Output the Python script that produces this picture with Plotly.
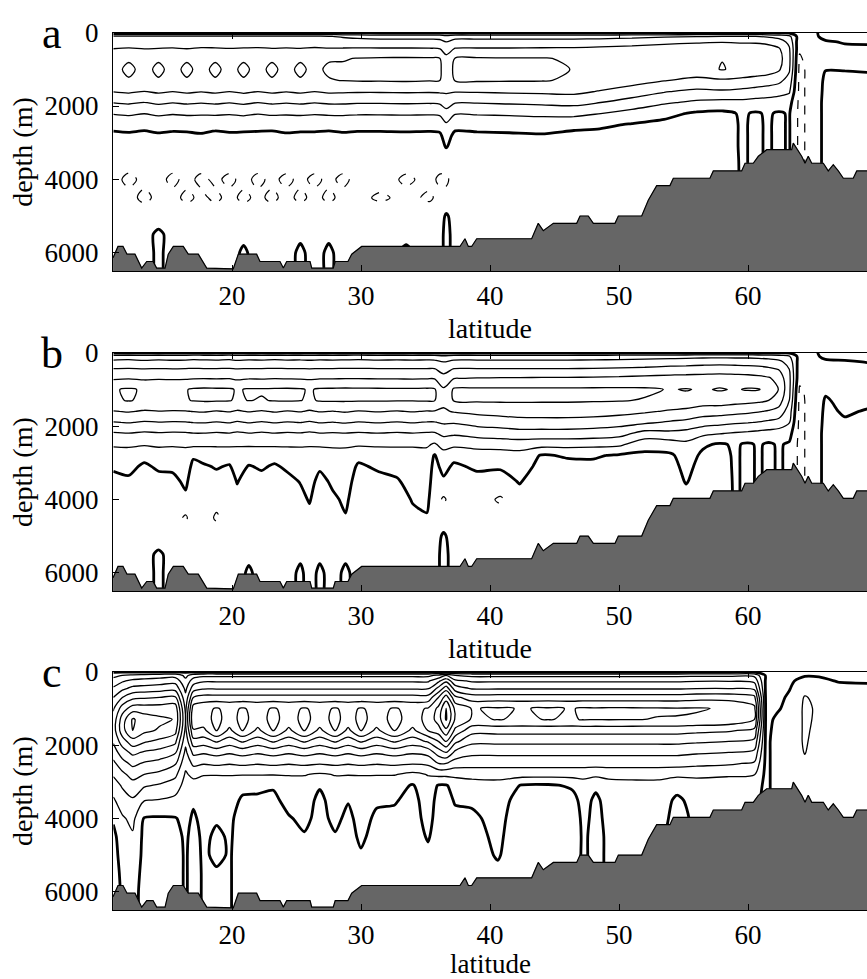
import numpy as np
import plotly.graph_objects as go

# ---------------- data ----------------
DEPTHS = [0, 100, 250, 450, 700, 1000, 1300, 1600, 1900, 2200, 2500, 2800,
          3100, 3500, 4000, 4500, 5000, 5500, 6000, 6500]
DEPTH_MAX = 6500

# panel a: overturning streamfunction (Sv), one depth profile per latitude
LAT_A = [10.8, 12.0, 13.2, 14.3, 15.4, 16.5, 17.6, 18.7, 19.8, 20.9, 22.0, 23.1,
         24.2, 25.3, 26.4, 27.5, 28.6, 29.7, 31.5, 33.5, 35.3, 36.1, 36.6, 37.3,
         39.0, 41.5, 44.0, 46.5, 48.5, 51.0, 53.5, 56.0, 58.0, 59.6, 60.6, 61.5,
         62.4, 63.2, 64.0, 64.8, 66.0, 67.5, 69.3]
PSI_A = [
    [-0.5, 8.5, 10.5, 12.1, 15.0, 15.3, 15.2, 12.2, 8.2, 4.3, 1.3, -0.8, -1.6, -2.2, -3.0, -3.0, -2.2, -1.2, -1.0, -1.0],
    [-0.5, 8.6, 10.6, 12.3, 15.7, 16.5, 15.8, 12.6, 8.6, 4.6, 1.6, -0.6, -1.5, -2.5, -4.8, -3.0, -2.0, -1.0, -1.0, -1.0],
    [-0.5, 8.4, 10.4, 12.1, 15.0, 15.3, 15.2, 12.0, 8.0, 4.1, 1.2, -0.9, -1.7, -2.3, -3.2, -4.8, -2.2, -1.0, -1.0, -1.0],
    [-0.5, 8.5, 10.5, 12.2, 15.7, 16.5, 15.8, 12.6, 8.7, 4.7, 1.7, -0.5, -1.4, -2.0, -3.0, -3.2, -1.5, 0.6, 0.5, 0.5],
    [-0.5, 8.6, 10.6, 12.3, 15.0, 15.3, 15.2, 12.1, 8.2, 4.3, 1.4, -0.8, -1.6, -2.4, -4.8, -3.0, -2.0, -1.0, -1.0, -1.0],
    [-0.5, 8.4, 10.5, 12.1, 15.7, 16.5, 15.8, 12.6, 8.6, 4.6, 1.5, -0.7, -1.5, -2.2, -3.0, -4.8, -2.0, -1.0, -1.0, -1.0],
    [-0.5, 8.5, 10.6, 12.4, 15.0, 15.3, 15.2, 12.2, 8.3, 4.4, 1.8, -0.4, -1.4, -2.2, -4.8, -3.2, -2.0, -1.0, -1.0, -1.0],
    [-0.5, 8.7, 10.7, 12.3, 15.7, 16.5, 15.8, 12.6, 8.6, 4.6, 1.3, -0.9, -1.7, -2.4, -3.3, -4.8, -2.0, -1.0, -1.0, -1.0],
    [-0.5, 8.5, 10.5, 12.2, 15.0, 15.3, 15.2, 12.1, 8.2, 4.3, 1.6, -0.6, -1.5, -2.3, -4.8, -3.0, -2.0, -1.0, -1.0, -1.0],
    [-0.5, 8.6, 10.6, 12.3, 15.7, 16.5, 15.8, 12.7, 8.7, 4.7, 1.5, -0.7, -1.5, -2.2, -3.0, -4.8, -2.0, -0.6, 0.4, 0.4],
    [-0.5, 8.5, 10.6, 12.4, 15.0, 15.3, 15.2, 12.1, 8.1, 4.2, 1.4, -0.8, -1.6, -2.3, -4.8, -3.2, -2.0, -1.0, -1.0, -1.0],
    [-0.5, 8.5, 10.5, 12.2, 15.7, 16.5, 15.8, 12.6, 8.6, 4.6, 1.3, -0.9, -1.7, -2.4, -3.2, -4.8, -2.0, -1.0, -1.0, -1.0],
    [-0.5, 8.6, 10.6, 12.3, 15.0, 15.3, 15.2, 12.2, 8.3, 4.4, 1.7, -0.5, -1.4, -2.2, -4.8, -3.0, -2.0, -1.0, -1.0, -1.0],
    [-0.5, 8.5, 10.5, 12.2, 15.7, 16.5, 15.8, 12.6, 8.6, 4.6, 1.5, -0.7, -1.5, -2.3, -3.2, -4.8, -1.8, -0.5, 0.5, 0.5],
    [-0.5, 8.6, 10.7, 12.4, 15.0, 15.3, 15.2, 12.1, 8.2, 4.3, 1.5, -0.7, -1.5, -2.2, -4.8, -3.0, -1.8, -1.0, -1.0, -1.0],
    [-0.5, 8.2, 10.4, 12.3, 15.7, 16.5, 15.8, 12.6, 8.6, 4.6, 1.3, -0.9, -1.7, -2.4, -3.2, -4.8, -1.8, -0.5, 0.5, 0.5],
    [-0.5, 7.5, 10.0, 12.4, 15.8, 16.5, 16.1, 12.5, 8.6, 4.6, 1.6, -0.6, -1.5, -2.2, -4.8, -3.0, -1.8, -1.0, -1.0, -1.0],
    [-0.5, 7.0, 9.8, 12.5, 16.1, 16.7, 16.3, 12.4, 8.4, 4.4, 1.4, -0.8, -1.6, -2.3, -3.0, -3.0, -1.8, -1.0, -1.0, -1.0],
    [-0.5, 6.5, 9.5, 12.5, 16.3, 16.8, 16.3, 12.4, 8.4, 4.4, 1.4, -0.8, -1.5, -2.0, -2.5, -4.6, -1.8, -1.0, -1.0, -1.0],
    [-0.5, 6.5, 9.5, 12.5, 16.4, 16.9, 16.4, 12.5, 8.5, 4.5, 1.5, -0.7, -1.5, -2.5, -4.6, -3.0, -1.8, -0.5, 0.4, 0.4],
    [-0.5, 6.5, 9.5, 12.4, 16.3, 16.8, 16.2, 12.4, 8.4, 4.4, 1.4, -0.8, -1.6, -2.5, -3.0, -4.6, -1.8, -1.0, -1.0, -1.0],
    [-0.5, 6.3, 9.3, 12.2, 16.1, 16.6, 16.1, 12.5, 8.6, 4.6, 1.6, -0.6, -1.5, -2.5, -4.6, -3.0, -1.8, -1.0, -1.0, -1.0],
    [-0.5, 5.0, 8.0, 10.5, 13.0, 14.0, 13.5, 12.5, 10.0, 6.5, 3.5, 1.5, 0.3, -2.5, -4.6, -3.0, 0.5, 0.8, 0.8, 0.8],
    [-0.5, 6.5, 9.5, 12.4, 16.2, 16.8, 16.2, 12.3, 8.3, 4.3, 1.3, -0.9, -1.5, -2.0, -2.5, -2.0, -1.5, -1.0, -1.0, -1.0],
    [-0.5, 6.5, 9.5, 12.5, 16.3, 16.9, 16.4, 12.4, 8.3, 4.4, 1.5, -0.7, -1.3, -1.8, -2.0, -2.0, -1.5, -1.0, -1.0, -1.0],
    [-0.5, 6.5, 9.5, 12.5, 16.2, 16.8, 16.3, 12.6, 8.6, 4.6, 1.6, -0.5, -1.2, -1.8, -2.0, -2.0, -1.5, -1.0, -1.0, -1.0],
    [-0.5, 6.5, 9.6, 12.6, 16.2, 16.7, 16.2, 12.8, 8.9, 4.9, 1.9, -0.3, -1.1, -1.6, -1.8, -1.8, -1.5, -1.0, -1.0, -1.0],
    [-0.5, 6.5, 9.6, 12.7, 15.6, 15.9, 15.6, 13.0, 9.2, 5.2, 1.0, -0.8, -1.0, -1.5, -1.6, -1.5, -1.2, -1.0, -1.0, -1.0],
    [-0.5, 6.6, 9.8, 13.0, 15.5, 15.6, 14.6, 11.8, 8.1, 4.1, 0.6, -0.9, -1.0, -1.3, -1.5, -1.5, -1.2, -1.0, -1.0, -1.0],
    [-0.5, 7.0, 10.3, 13.4, 15.4, 15.4, 13.6, 10.2, 6.4, 2.6, -0.2, -1.0, -1.0, -1.3, -1.5, -1.5, -1.2, -1.0, -1.0, -1.0],
    [-0.5, 7.5, 11.0, 14.0, 15.5, 15.0, 12.2, 8.3, 4.6, 1.0, -0.8, -1.0, -1.0, -1.2, -1.3, -1.3, -1.2, -1.0, -1.0, -1.0],
    [-0.5, 7.8, 11.5, 14.5, 15.6, 14.5, 11.0, 7.2, 3.3, -0.5, -1.0, -1.0, -1.0, -1.2, -1.3, -1.3, -1.2, -1.0, -1.0, -1.0],
    [-0.5, 8.0, 11.8, 14.8, 15.9, 16.2, 11.5, 7.5, 2.8, -0.8, -1.0, -1.0, -1.0, -1.2, -1.3, -1.3, -1.2, -1.0, -1.0, -1.0],
    [-0.5, 8.0, 11.5, 14.5, 15.5, 15.0, 11.0, 7.0, 3.0, 0.4, 0.3, 0.3, 0.3, 0.3, 0.3, 0.3, 0.3, 0.3, 0.3, 0.3],
    [-0.5, 8.0, 11.5, 14.2, 15.2, 14.5, 10.5, 6.5, 2.6, -0.4, -0.5, -0.5, -0.5, -0.5, -0.5, -0.5, -0.5, -0.5, -0.5, -0.5],
    [-0.5, 7.5, 11.0, 13.8, 15.0, 14.0, 10.0, 6.0, 2.5, 0.4, 0.3, 0.3, 0.3, 0.3, 0.3, 0.3, 0.3, 0.3, 0.3, 0.3],
    [-0.5, 6.5, 10.0, 12.5, 13.5, 12.5, 9.0, 5.5, 2.0, -0.4, -0.5, -0.5, -0.5, -0.5, -0.5, -0.5, -0.5, -0.5, -0.5, -0.5],
    [-0.5, 5.0, 7.0, 8.5, 9.0, 8.5, 6.5, 4.5, 1.5, 0.3, 0.3, 0.3, 0.3, 0.3, 0.3, 0.3, 0.3, 0.3, 0.3, 0.3],
    [-0.8, -2.0, -3.0, -3.5, -4.5, -5.0, -5.0, -5.0, -5.0, -5.0, -5.0, -5.0, -5.0, -5.0, -5.0, -5.0, -5.0, -5.0, -5.0, -5.0],
    [-0.5, -1.0, -1.5, -2.0, -2.5, -3.0, -3.0, -3.0, -3.0, -3.0, -3.0, -3.0, -3.0, -3.0, -3.0, -3.0, -3.0, -3.0, -3.0, -3.0],
    [0.5, 0.8, -0.3, -0.8, -0.8, -0.1, 0.6, 0.8, 1.0, 1.0, 1.0, 1.0, 1.0, 1.0, 1.0, 1.0, 1.0, 1.0, 1.0, 1.0],
    [0.5, 1.0, 0.2, -0.5, -0.8, -0.1, 0.6, 0.8, 1.0, 1.0, 1.0, 1.0, 1.0, 1.0, 1.0, 1.0, 1.0, 1.0, 1.0, 1.0],
    [0.5, 1.0, 0.3, -0.5, -0.8, -0.2, 0.5, 0.8, 1.0, 1.0, 1.0, 1.0, 1.0, 1.0, 1.0, 1.0, 1.0, 1.0, 1.0, 1.0],
]

# panel b
LAT_B = [10.8, 12.0, 13.2, 14.3, 15.4, 16.4, 17.0, 17.8, 18.8, 19.8, 20.4, 21.3,
         22.3, 23.3, 24.3, 25.3, 26.0, 26.8, 27.8, 28.8, 29.8, 31.3, 32.8, 34.0,
         35.1, 35.7, 36.4, 37.2, 39.0, 40.8, 42.3, 44.0, 46.0, 48.0, 50.0, 52.0,
         54.0, 55.2, 56.5, 57.8, 59.0, 60.0, 60.8, 61.6, 62.4, 63.2, 64.0, 64.8,
         66.0, 67.5, 69.3]
PSI_B = [
    [-0.5, 6.0, 9.0, 12.3, 15.5, 19.7, 19.5, 15.8, 11.8, 7.6, 4.6, 2.0, 0.5, -1.0, -2.0, -2.0, -1.5, -1.0, -1.0, -1.0],
    [-0.5, 6.2, 9.2, 12.4, 15.8, 20.4, 20.2, 16.3, 12.2, 7.9, 4.7, 2.2, 0.8, -0.5, -2.0, -2.0, -1.5, -1.0, -1.0, -1.0],
    [-0.5, 5.8, 8.8, 12.2, 15.4, 19.6, 19.4, 15.6, 11.6, 7.4, 4.4, 1.0, -0.5, -1.5, -2.0, -2.0, -1.5, -1.0, -1.0, -1.0],
    [-0.5, 6.1, 9.1, 12.3, 15.6, 19.8, 19.6, 15.9, 11.9, 7.7, 4.7, 2.0, 0.5, -1.0, -2.0, -2.0, -1.5, 0.5, 0.5, 0.5],
    [-0.5, 5.9, 8.9, 12.2, 15.5, 19.7, 19.5, 15.7, 11.7, 7.5, 4.5, 2.0, 0.6, -0.8, -2.0, -2.0, -1.5, -1.0, -1.0, -1.0],
    [-0.5, 6.0, 9.0, 12.3, 15.6, 19.8, 19.7, 15.8, 11.8, 7.6, 4.6, 2.5, 1.8, 0.6, -0.6, -4.6, -2.0, -1.0, -1.0, -1.0],
    [-0.5, 6.2, 9.2, 12.4, 15.8, 20.4, 20.2, 16.1, 12.1, 7.9, 4.9, 0.5, -0.9, -1.5, -2.0, -2.0, -1.5, -1.0, -1.0, -1.0],
    [-0.5, 6.1, 9.1, 12.3, 15.9, 20.6, 20.4, 16.3, 12.2, 7.9, 4.7, 1.2, -0.4, -1.5, -2.0, -2.0, -1.5, -1.0, -1.0, -1.0],
    [-0.5, 6.0, 9.0, 12.3, 15.8, 20.5, 20.3, 15.8, 11.8, 7.6, 4.6, 1.8, 0.3, -1.2, -2.5, -4.6, -1.5, -1.0, -1.0, -1.0],
    [-0.5, 6.2, 9.2, 12.4, 15.9, 20.4, 20.2, 16.2, 12.2, 7.9, 4.7, 1.5, -0.3, -1.5, -2.0, -2.0, -1.5, -1.0, -1.0, -1.0],
    [-0.5, 5.8, 8.8, 12.2, 15.4, 19.7, 19.5, 15.6, 11.6, 7.4, 4.4, 2.5, 1.5, 0.2, -1.0, -2.0, -1.5, -1.0, -1.0, -1.0],
    [-0.5, 6.1, 9.1, 12.3, 15.8, 20.3, 20.1, 16.2, 12.2, 7.9, 4.6, 1.5, -0.2, -1.5, -2.0, -2.0, -1.5, -0.6, 0.4, 0.4],
    [-0.5, 6.0, 9.0, 12.3, 15.7, 20.3, 19.8, 15.7, 11.7, 7.5, 4.5, 2.0, 0.4, -1.0, -2.0, -2.0, -1.5, -1.0, -1.0, -1.0],
    [-0.5, 6.2, 9.2, 12.4, 15.9, 20.4, 20.2, 16.3, 12.2, 7.9, 4.7, 1.2, -0.4, -1.5, -2.0, -2.0, -1.5, -1.0, -1.0, -1.0],
    [-0.5, 6.0, 9.0, 12.3, 15.8, 20.5, 20.3, 15.8, 11.8, 7.6, 4.6, 2.0, 0.6, -0.9, -2.0, -2.0, -1.5, -1.0, -1.0, -1.0],
    [-0.5, 6.1, 9.1, 12.3, 15.7, 20.3, 20.1, 16.2, 12.1, 7.8, 4.5, 2.5, 1.5, 0.2, -1.0, -2.0, -1.5, -0.5, 0.5, 0.5],
    [-0.5, 5.9, 8.9, 12.2, 15.5, 19.7, 19.5, 15.6, 11.6, 7.4, 4.4, 2.5, 2.0, 1.2, 0.3, -1.0, -1.5, -1.0, -1.0, -1.0],
    [-0.5, 6.1, 9.1, 12.3, 15.8, 20.4, 20.3, 16.2, 12.2, 7.9, 4.6, 2.0, 0.5, -1.0, -2.0, -2.0, -1.5, -0.5, 0.5, 0.5],
    [-0.5, 6.0, 9.0, 12.3, 15.8, 20.5, 20.4, 15.9, 11.9, 7.7, 4.7, 2.5, 1.8, 0.6, -0.6, -2.0, -1.5, -1.0, -1.0, -1.0],
    [-0.5, 6.1, 9.1, 12.4, 15.9, 20.6, 20.4, 16.3, 12.3, 7.9, 4.7, 2.5, 2.0, 1.5, 0.6, -0.2, -1.5, -0.5, 0.5, 0.5],
    [-0.5, 6.2, 9.2, 12.4, 15.9, 20.5, 20.3, 15.8, 11.8, 7.6, 4.6, 1.0, -0.5, -1.5, -2.0, -2.0, -1.5, -1.0, -1.0, -1.0],
    [-0.5, 6.0, 9.0, 12.3, 15.8, 20.5, 20.3, 16.2, 12.2, 7.9, 4.6, 2.0, 0.5, -1.0, -2.0, -2.0, -1.5, -1.0, -1.0, -1.0],
    [-0.5, 6.1, 9.1, 12.3, 15.8, 20.4, 20.2, 15.8, 11.8, 7.6, 4.6, 2.2, 1.0, -0.3, -2.0, -2.0, -1.5, -1.0, -1.0, -1.0],
    [-0.5, 6.0, 9.0, 12.3, 15.7, 20.4, 20.2, 16.2, 12.2, 7.9, 4.5, 2.5, 2.0, 1.2, 0.3, -1.0, -1.5, -1.0, 0.4, 0.4],
    [-0.5, 6.1, 9.1, 12.3, 15.8, 20.5, 20.3, 15.8, 11.8, 7.6, 4.6, 2.5, 2.0, 1.5, 0.8, -0.3, -1.5, -1.0, -1.0, -1.0],
    [-0.5, 6.0, 9.0, 12.3, 15.8, 20.4, 20.2, 15.8, 11.8, 7.6, 3.5, -0.3, -1.0, -1.5, -2.0, -2.0, -1.5, -1.0, -1.0, -1.0],
    [-0.5, 5.0, 8.0, 10.5, 13.5, 16.5, 17.0, 15.5, 12.5, 9.0, 5.5, 2.5, 1.0, -0.5, -4.6, -2.0, 0.5, 0.8, 0.8, 0.8],
    [-0.5, 6.0, 9.0, 12.3, 15.9, 20.5, 20.3, 16.3, 12.3, 8.6, 5.0, 1.0, -0.5, -1.5, -2.0, -2.0, -1.5, -1.0, -1.0, -1.0],
    [-0.5, 6.0, 9.0, 12.3, 16.2, 20.6, 20.5, 17.0, 13.5, 9.5, 5.5, 2.0, 0.5, -1.0, -2.0, -2.0, -1.5, -1.0, -1.0, -1.0],
    [-0.5, 6.0, 9.0, 12.3, 16.3, 20.6, 20.5, 17.5, 14.0, 10.0, 5.8, 2.0, 0.3, -1.0, -4.6, -2.0, -1.5, -1.0, -1.0, -1.0],
    [-0.5, 6.0, 9.0, 12.3, 16.3, 20.6, 20.5, 17.8, 14.5, 10.5, 6.0, 2.5, 1.5, 0.2, -1.0, -2.0, -1.5, -1.0, -1.0, -1.0],
    [-0.5, 6.0, 9.0, 12.3, 16.5, 20.6, 20.4, 18.0, 14.5, 10.5, 5.5, -0.3, -1.0, -1.5, -1.8, -1.8, -1.5, -1.0, -1.0, -1.0],
    [-0.5, 6.0, 9.0, 12.3, 16.5, 20.6, 20.4, 18.0, 14.5, 10.5, 5.5, 0.3, -0.8, -1.5, -1.8, -1.8, -1.5, -1.0, -1.0, -1.0],
    [-0.5, 6.1, 9.1, 12.4, 16.6, 20.6, 20.3, 17.8, 14.2, 10.2, 5.2, 0.4, -0.8, -1.5, -1.8, -1.8, -1.5, -1.0, -1.0, -1.0],
    [-0.5, 6.2, 9.3, 12.6, 16.8, 20.6, 20.2, 17.3, 13.6, 9.5, 4.8, -0.4, -1.0, -1.5, -1.6, -1.6, -1.4, -1.0, -1.0, -1.0],
    [-0.5, 6.4, 9.6, 12.9, 17.2, 20.5, 19.8, 16.5, 12.7, 6.5, 1.5, -0.8, -1.0, -1.5, -1.6, -1.6, -1.4, -1.0, -1.0, -1.0],
    [-0.5, 6.6, 10.0, 13.4, 17.5, 19.8, 19.0, 15.5, 11.5, 7.0, 2.0, -0.5, -1.0, -1.4, -1.5, -1.5, -1.3, -1.0, -1.0, -1.0],
    [-0.5, 6.8, 10.2, 13.6, 17.6, 20.2, 18.8, 15.0, 11.0, 6.5, 3.0, 1.5, 0.8, 0.2, -1.0, -1.5, -1.3, -1.0, -1.0, -1.0],
    [-0.5, 7.0, 10.5, 13.8, 17.8, 19.6, 18.0, 14.0, 9.8, 5.0, 0.5, -0.6, -1.0, -1.3, -1.5, -1.5, -1.3, -1.0, -1.0, -1.0],
    [-0.5, 7.0, 10.6, 14.0, 18.0, 20.3, 18.0, 13.8, 9.2, 4.2, -0.4, -0.8, -1.0, -1.3, -1.5, -1.5, -1.3, -1.0, -1.0, -1.0],
    [-0.5, 7.0, 10.5, 13.8, 17.8, 19.7, 17.5, 13.2, 8.6, 3.6, 0.4, 0.3, 0.3, 0.3, 0.3, 0.3, 0.3, 0.3, 0.3, 0.3],
    [-0.5, 7.0, 10.4, 13.6, 17.6, 20.3, 17.2, 12.8, 8.2, 3.2, -0.5, -0.5, -0.5, -0.5, -0.5, -0.5, -0.5, -0.5, -0.5, -0.5],
    [-0.5, 6.8, 10.2, 13.3, 17.2, 20.2, 16.8, 12.3, 7.8, 2.8, 0.4, 0.3, 0.3, 0.3, 0.3, 0.3, 0.3, 0.3, 0.3, 0.3],
    [-0.5, 6.5, 9.8, 12.8, 16.5, 19.0, 16.0, 11.6, 7.2, 2.4, -0.5, -0.5, -0.5, -0.5, -0.5, -0.5, -0.5, -0.5, -0.5, -0.5],
    [-0.5, 6.0, 9.0, 11.8, 14.5, 15.8, 14.0, 10.5, 6.5, 2.0, 0.4, 0.3, 0.3, 0.3, 0.3, 0.3, 0.3, 0.3, 0.3, 0.3],
    [-0.5, 4.5, 6.5, 8.0, 9.0, 9.0, 8.0, 6.0, 4.2, 1.5, -0.5, -0.5, -0.5, -0.5, -0.5, -0.5, -0.5, -0.5, -0.5, -0.5],
    [-0.8, -1.5, -2.0, -2.5, -3.0, -4.5, -5.0, -5.0, -5.0, -5.0, -5.0, -5.0, -5.0, -5.0, -5.0, -5.0, -5.0, -5.0, -5.0, -5.0],
    [-0.5, -1.0, -1.5, -2.0, -2.5, -3.0, -3.0, -3.0, -3.0, -3.0, -3.0, -3.0, -3.0, -3.0, -3.0, -3.0, -3.0, -3.0, -3.0, -3.0],
    [0.5, 0.6, -0.5, -1.0, -1.2, -0.5, 0.3, 0.6, 0.8, 1.0, 1.0, 1.0, 1.0, 1.0, 1.0, 1.0, 1.0, 1.0, 1.0, 1.0],
    [0.5, 0.8, -0.3, -0.8, -1.0, -1.0, -0.8, -0.3, 0.3, 0.8, 1.0, 1.0, 1.0, 1.0, 1.0, 1.0, 1.0, 1.0, 1.0, 1.0],
    [0.5, 0.8, 0.1, -0.8, -1.0, -1.0, -0.6, 0.2, 0.6, 0.8, 1.0, 1.0, 1.0, 1.0, 1.0, 1.0, 1.0, 1.0, 1.0, 1.0],
]

# panel c
LAT_C = [10.8, 11.5, 12.3, 13.2, 14.4, 15.6, 16.4, 17.0, 17.8, 18.8, 19.8, 20.8,
         22.0, 23.2, 24.4, 25.6, 26.8, 28.0, 29.0, 30.0, 31.2, 32.6, 34.0, 35.2,
         36.0, 36.6, 37.3, 38.6, 40.6, 42.5, 44.5, 46.4, 47.2, 48.2, 49.2, 51.0,
         53.0, 54.5, 56.0, 58.5, 60.5, 61.4, 62.2, 63.2, 64.4, 65.5, 67.0, 69.3]
PSI_C = [
    [-0.5, 3.0, 5.5, 8.5, 12.0, 15.5, 17.5, 18.0, 16.5, 14.0, 11.0, 8.5, 6.0, 3.5, 0.5, -1.0, -1.0, -1.0, -1.0, -1.0],
    [-0.5, 4.0, 7.5, 11.0, 16.0, 22.0, 26.0, 26.5, 22.0, 18.0, 14.5, 11.0, 8.5, 6.0, 3.5, 2.0, 1.0, 0.5, 0.3, 0.3],
    [-0.5, 5.0, 9.0, 13.0, 19.0, 26.0, 32.5, 32.0, 26.5, 21.0, 17.0, 13.5, 10.5, 7.5, 5.0, 3.5, 2.5, 1.5, 1.0, 1.0],
    [-0.5, 5.5, 9.5, 13.5, 19.5, 26.0, 30.0, 29.0, 24.5, 19.5, 15.5, 12.0, 8.5, 4.2, -0.3, -1.0, -1.0, -1.0, -1.0, -1.0],
    [-0.5, 6.0, 10.0, 14.0, 20.0, 26.0, 28.8, 27.5, 23.0, 18.5, 14.5, 11.0, 7.5, 3.8, -0.4, -1.0, -1.0, -1.0, -1.0, -1.0],
    [-0.5, 6.5, 10.5, 14.5, 20.5, 26.5, 27.8, 25.5, 21.0, 16.5, 12.5, 9.0, 6.0, 3.0, -0.2, -1.0, -1.0, -1.0, -1.0, -1.0],
    [-0.5, 3.0, 5.0, 7.0, 9.0, 11.0, 12.0, 11.0, 9.0, 7.0, 5.0, 3.5, 2.5, 1.5, 1.0, 0.5, 0.3, 0.3, 0.3, 0.3],
    [-0.5, 6.0, 10.0, 14.0, 20.0, 26.0, 27.5, 23.5, 18.5, 13.0, 9.0, 5.0, 2.5, 0.5, -0.5, -1.0, -1.0, -1.0, -1.0, -1.0],
    [-0.5, 7.0, 11.5, 15.5, 21.5, 27.0, 26.5, 23.0, 18.0, 12.5, 8.3, 4.2, 2.5, 1.5, 1.0, 0.6, 0.4, 0.3, 0.3, 0.3],
    [-0.5, 7.0, 11.5, 15.5, 21.5, 28.3, 29.0, 28.2, 20.5, 13.5, 8.8, 4.2, 2.0, 1.0, 0.3, -0.5, -0.5, 0.3, 0.3, 0.3],
    [-0.5, 7.0, 11.5, 15.5, 21.5, 27.0, 26.5, 23.0, 18.0, 12.5, 8.3, 4.2, 2.5, 1.5, 0.5, 0.3, 0.2, 0.2, 0.2, 0.2],
    [-0.5, 7.0, 11.5, 15.5, 21.5, 28.3, 29.0, 28.2, 20.5, 13.5, 8.8, 4.2, 1.0, -0.5, -1.0, -1.0, -1.0, -1.0, -1.0, -1.0],
    [-0.5, 7.0, 11.5, 15.5, 21.5, 27.0, 26.5, 23.0, 18.0, 12.5, 8.3, 4.2, 0.8, -0.6, -1.0, -1.0, -1.0, -1.0, -1.0, -1.0],
    [-0.5, 7.0, 11.5, 15.5, 21.5, 28.3, 29.0, 28.2, 20.5, 13.5, 8.8, 4.2, 0.4, -0.8, -1.0, -1.0, -1.0, -1.0, -1.0, -1.0],
    [-0.5, 7.0, 11.5, 15.5, 21.5, 27.0, 26.5, 23.0, 18.0, 12.5, 8.3, 4.2, 2.5, 1.2, -0.3, -1.0, -1.0, -1.0, -1.0, -1.0],
    [-0.5, 7.0, 11.5, 15.5, 21.5, 28.3, 29.0, 28.2, 20.5, 13.5, 8.8, 4.2, 2.5, 1.5, 0.8, -0.3, -1.0, -1.0, -1.0, -1.0],
    [-0.5, 7.0, 11.5, 15.5, 21.5, 27.0, 26.5, 23.0, 18.0, 12.5, 8.3, 3.5, 0.3, -0.8, -1.0, -1.0, -1.0, -1.0, -1.0, -1.0],
    [-0.5, 7.0, 11.5, 15.5, 21.5, 28.3, 29.0, 28.2, 20.5, 13.5, 8.8, 4.2, 2.5, 1.5, 0.8, -0.3, -1.0, -1.0, -1.0, -1.0],
    [-0.5, 7.0, 11.5, 15.5, 21.5, 27.0, 26.5, 23.0, 18.0, 12.5, 8.3, 4.2, 1.5, 0.2, -0.8, -1.0, -1.0, -1.0, -1.0, -1.0],
    [-0.5, 7.0, 11.5, 15.5, 21.5, 28.3, 29.0, 28.2, 20.5, 13.5, 8.8, 4.2, 2.5, 1.8, 1.2, 0.5, -0.3, -1.0, -1.0, -1.0],
    [-0.5, 7.0, 11.5, 15.5, 21.5, 27.0, 26.5, 23.0, 18.0, 12.5, 8.3, 4.2, 2.0, 0.5, -0.6, -1.0, -1.0, -1.0, -1.0, -1.0],
    [-0.5, 7.0, 11.5, 15.5, 21.5, 28.3, 29.0, 28.2, 20.5, 13.5, 8.8, 4.2, 1.5, 0.3, -0.8, -1.0, -1.0, -1.0, -1.0, -1.0],
    [-0.5, 7.0, 11.5, 15.5, 21.5, 27.0, 26.5, 23.0, 18.0, 12.5, 8.3, 3.0, -0.3, -1.0, -1.0, -1.0, -1.0, -1.0, -1.0, -1.0],
    [-0.5, 7.0, 11.5, 15.5, 21.5, 28.3, 29.0, 28.2, 20.5, 13.5, 8.8, 4.2, 2.5, 1.5, 0.8, 0.2, -0.5, -1.0, -1.0, -1.0],
    [-0.5, 9.0, 15.0, 21.0, 28.0, 33.0, 34.0, 30.0, 24.0, 18.0, 12.0, 5.0, -0.3, -1.0, -1.0, -1.0, -1.0, -1.0, -1.0, -1.0],
    [-0.5, 12.0, 19.0, 26.0, 34.0, 40.0, 40.5, 35.0, 28.0, 20.0, 12.0, 5.0, -0.3, -1.0, -1.0, -1.0, -1.0, -1.0, -1.0, -1.0],
    [-0.5, 8.0, 13.0, 18.0, 25.0, 31.0, 31.5, 27.0, 21.0, 15.0, 10.0, 5.0, 1.5, 0.3, -0.8, -1.0, -1.0, -1.0, -1.0, -1.0],
    [-0.5, 7.0, 11.5, 15.5, 22.0, 27.8, 27.6, 21.5, 17.0, 13.0, 9.5, 5.5, 2.0, 0.5, -0.6, -1.0, -1.0, -1.0, -1.0, -1.0],
    [-0.5, 7.0, 11.5, 15.5, 22.0, 28.4, 28.1, 21.5, 17.0, 13.0, 9.5, 5.5, 2.5, 1.5, 1.0, 0.6, 0.2, -0.5, -0.5, -0.5],
    [-0.5, 7.0, 11.5, 15.5, 22.0, 27.8, 27.7, 21.5, 17.0, 13.0, 9.5, 5.5, -0.3, -1.5, -2.0, -2.0, -1.5, -1.0, -1.0, -1.0],
    [-0.5, 7.0, 11.5, 15.5, 22.0, 28.4, 28.1, 21.5, 17.0, 13.0, 9.5, 5.5, -0.5, -1.5, -2.0, -2.0, -1.5, -1.0, -1.0, -1.0],
    [-0.5, 7.0, 11.5, 15.5, 22.0, 27.8, 27.7, 21.5, 17.0, 13.0, 9.5, 5.5, 0.5, -1.0, -1.5, -1.5, -1.2, -1.0, -1.0, -1.0],
    [-0.5, 7.0, 11.5, 15.5, 22.0, 28.5, 28.2, 21.5, 17.0, 13.0, 9.5, 5.5, 2.0, 1.0, 0.5, 0.3, 0.3, 0.3, 0.3, 0.3],
    [-0.5, 7.0, 11.5, 15.5, 22.0, 28.3, 28.1, 21.5, 17.0, 13.0, 9.5, 5.0, 0.5, -0.5, -0.5, -0.5, -0.5, -0.5, -0.5, -0.5],
    [-0.5, 7.0, 11.5, 15.5, 22.0, 28.5, 28.2, 21.5, 17.0, 13.0, 9.5, 5.5, 2.0, 1.0, 0.5, 0.3, 0.3, 0.3, 0.3, 0.3],
    [-0.5, 7.0, 11.5, 15.5, 22.0, 28.4, 28.1, 21.5, 17.0, 13.0, 9.5, 5.5, 2.5, 1.5, 1.0, 0.5, 0.3, 0.3, 0.3, 0.3],
    [-0.5, 7.0, 11.5, 15.5, 22.0, 28.3, 27.9, 21.5, 17.0, 13.0, 9.5, 5.5, 2.5, 1.5, 1.0, 0.5, 0.3, 0.3, 0.3, 0.3],
    [-0.5, 7.0, 11.5, 15.5, 22.0, 28.2, 27.9, 21.5, 17.0, 13.0, 9.5, 5.0, 1.0, -0.5, -0.8, -0.8, -0.8, -0.8, -0.8, -0.8],
    [-0.5, 7.2, 11.8, 15.8, 22.5, 28.3, 27.5, 21.0, 16.5, 12.5, 9.0, 5.0, 2.0, 1.0, 0.5, 0.5, 0.5, 0.5, 0.5, 0.5],
    [-0.5, 7.2, 11.8, 15.8, 22.5, 27.6, 27.0, 20.5, 16.0, 12.0, 8.5, 4.5, 2.0, 1.0, 0.5, 0.5, 0.5, 0.5, 0.5, 0.5],
    [-0.5, 7.0, 11.0, 15.0, 21.0, 25.0, 24.0, 19.0, 15.0, 11.0, 7.5, 4.1, 2.0, 1.0, 0.5, 0.5, 0.5, 0.5, 0.5, 0.5],
    [-0.5, -0.5, -0.8, -1.0, -1.0, -1.0, -1.0, -1.0, -1.0, -1.0, -1.0, -1.0, -1.0, -1.0, -1.0, -1.0, -1.0, -1.0, -1.0, -1.0],
    [-0.5, -0.8, -1.0, -1.0, -1.0, -0.5, 0.5, 1.0, 1.5, 1.5, 1.5, 1.5, 1.5, 1.5, 1.5, 1.5, 1.5, 1.5, 1.5, 1.5],
    [-0.5, -0.8, -0.5, -0.2, 0.5, 1.0, 1.5, 2.0, 2.5, 2.5, 2.5, 2.5, 2.5, 2.5, 2.5, 2.5, 2.5, 2.5, 2.5, 2.5],
    [-0.5, -0.2, 1.0, 2.5, 4.3, 4.6, 4.5, 4.4, 4.3, 4.1, 3.5, 3.0, 2.5, 2.0, 1.5, 1.5, 1.5, 1.5, 1.5, 1.5],
    [-0.5, -0.3, 0.8, 2.0, 3.0, 3.5, 3.5, 3.3, 3.0, 2.8, 2.5, 2.0, 1.8, 1.5, 1.2, 1.0, 1.0, 1.0, 1.0, 1.0],
    [-0.5, -0.5, -0.2, 1.0, 2.0, 2.5, 2.5, 2.5, 2.0, 2.0, 1.8, 1.5, 1.2, 1.0, 0.8, 0.8, 0.8, 0.8, 0.8, 0.8],
    [-0.5, -0.6, -0.4, 0.8, 1.8, 2.2, 2.2, 2.0, 1.8, 1.8, 1.5, 1.2, 1.0, 0.8, 0.6, 0.6, 0.6, 0.6, 0.6, 0.6],
]

# sea-floor profile (same section in all three panels)
BATHY_LAT = [10.78, 11.16, 11.55, 11.86, 12.48, 13.0, 13.39, 13.88, 14.16, 14.81,
             15.06, 15.45, 16.22, 16.61, 17.39, 18.04, 20.1, 20.49, 21.91, 22.17,
             23.72, 23.98, 24.24, 26.05, 26.18, 27.85, 28.0, 28.99, 29.28, 30.05,
             37.67, 38.06, 38.32, 38.58, 38.97, 43.23, 43.74, 44.13, 44.91, 46.72,
             46.98, 47.62, 48.01, 49.69, 49.95, 51.76, 52.27, 52.92, 53.95, 54.21,
             57.05, 57.31, 59.51, 59.77, 60.41, 60.8, 61.45, 63.39, 63.51, 64.16,
             64.42, 64.67, 64.94, 65.84, 66.22, 66.61, 67.0, 67.39, 68.16, 68.43, 69.23]
BATHY_DEPTH = [6140, 5830, 5830, 6040, 6040, 6420, 6240, 6240, 6420, 6420,
               6040, 5830, 5830, 6040, 6040, 6420, 6440, 6040, 6040, 6240,
               6240, 6420, 6240, 6240, 6420, 6420, 6240, 6240, 6040, 5830,
               5830, 5620, 5830, 5830, 5620, 5620, 5200, 5400, 5200, 5200,
               5000, 5000, 5200, 5200, 5000, 5000, 4570, 4170, 4170, 3970,
               3970, 3770, 3770, 3560, 3560, 3370, 3190, 3190, 3010, 3370,
               3560, 3370, 3560, 3560, 3770, 3600, 3770, 3970, 3970, 3770, 3770]

X_TICKS = [20, 30, 40, 50, 60]
Y_TICKS = [0, 2000, 4000, 6000]
PANEL_LABELS = ["a", "b", "c"]
X_TITLE = "latitude"
Y_TITLE = "depth (m)"

# ---------------- figure ----------------
W, H = 867, 979
FONT = "Liberation Serif, Times New Roman, serif"


def fx(p):
    return p / W


def fy(p):
    return 1 - p / H


PANELS = [(LAT_A, PSI_A, 18, 260), (LAT_B, PSI_B, 343, 585), (LAT_C, PSI_C, 667, 909)]
TITLE_OFFSETS = [58, 58, 55]
TITLE_SIZES = [28, 28, 27]

fig = go.Figure()
annotations = []
for i, (lat, psi, top, bottom) in enumerate(PANELS):
    n = "" if i == 0 else str(i + 1)
    xa, ya = "x" + n, "y" + n
    z = np.array(psi, dtype=float).T
    common = dict(x=lat, y=DEPTHS, z=z, xaxis=xa, yaxis=ya,
                  showscale=False, hoverinfo="skip")
    fig.add_trace(go.Contour(**common,
                             contours=dict(coloring="none", start=4, end=48, size=4),
                             line=dict(color="black", width=1.3, smoothing=0.9)))
    fig.add_trace(go.Contour(**common,
                             contours=dict(coloring="none", start=-48, end=-4, size=4),
                             line=dict(color="black", width=1.2, dash="dash", smoothing=0.9)))
    fig.add_trace(go.Contour(**common,
                             contours=dict(coloring="none", start=0, end=0.5, size=1),
                             line=dict(color="black", width=2.8, smoothing=0.7)))
    fig.add_trace(go.Scatter(x=BATHY_LAT + [BATHY_LAT[-1], BATHY_LAT[0]],
                             y=BATHY_DEPTH + [DEPTH_MAX, DEPTH_MAX],
                             fill="toself", fillcolor="#666666", mode="lines",
                             line=dict(color="#666666", width=0.5),
                             xaxis=xa, yaxis=ya, hoverinfo="skip"))
    fig.add_trace(go.Scatter(x=BATHY_LAT, y=BATHY_DEPTH, mode="lines",
                             line=dict(color="black", width=1.2),
                             xaxis=xa, yaxis=ya, hoverinfo="skip"))

    fig.update_layout(**{
        "xaxis" + n: dict(domain=[fx(113), 1.0], range=[10.775, 69.225], anchor=ya,
                          tickvals=X_TICKS, ticks="inside", ticklen=6, tickcolor="black",
                          showline=True, linecolor="black", linewidth=1.2, mirror="ticks",
                          showgrid=False, zeroline=False, ticklabelstandoff=0,
                          tickfont=dict(family=FONT, size=27, color="black")),
        "yaxis" + n: dict(domain=[fy(bottom), fy(top)], range=[DEPTH_MAX, 0], anchor=xa,
                          tickvals=Y_TICKS, ticks="inside", ticklen=6, tickcolor="black",
                          showline=True, linecolor="black", linewidth=1.2, mirror=False,
                          showgrid=False, zeroline=False, ticklabelstandoff=8,
                          tickfont=dict(family=FONT, size=27, color="black")),
    })
    annotations.append(dict(text=PANEL_LABELS[i], x=fx(52), y=fy(top + 1), xref="paper",
                            yref="paper", xanchor="center", yanchor="middle",
                            showarrow=False, font=dict(family=FONT, size=44, color="black")))
    annotations.append(dict(text=Y_TITLE, x=fx(23), y=fy((top + bottom) / 2), xref="paper",
                            yref="paper", xanchor="center", yanchor="middle", textangle=-90,
                            showarrow=False, font=dict(family=FONT, size=28, color="black")))
    annotations.append(dict(text=X_TITLE, x=fx(490), y=fy(bottom + TITLE_OFFSETS[i]),
                            xref="paper", yref="paper", xanchor="center", yanchor="middle",
                            showarrow=False,
                            font=dict(family=FONT, size=TITLE_SIZES[i], color="black")))

fig.update_layout(width=W, height=H, margin=dict(l=0, r=0, t=0, b=0),
                  paper_bgcolor="white", plot_bgcolor="white", showlegend=False,
                  annotations=annotations)

fig.write_html("out.html")
